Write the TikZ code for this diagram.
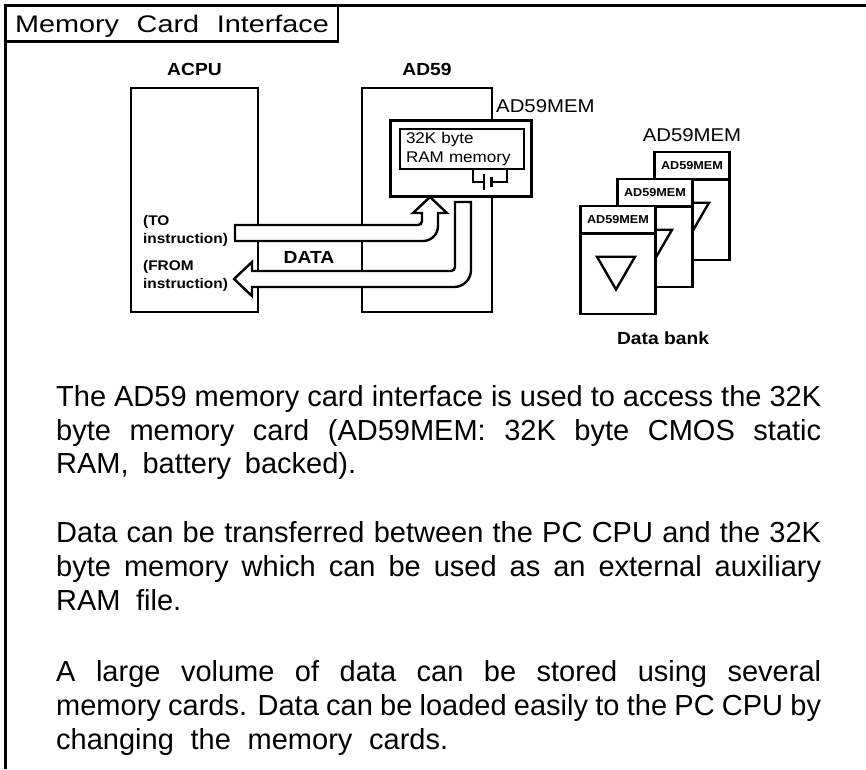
\documentclass[tikz,border=0pt]{standalone}
\usepackage{fontspec}
\usepackage{graphicx}
\setmainfont{Liberation Sans}
\newfontfamily\figfont[FakeStretch=1.1]{Liberation Sans}
\usetikzlibrary{positioning}

\begin{document}
\begin{tikzpicture}[x=1pt,y=-1pt,
    box/.style={draw,line width=2.8pt,inner sep=0pt},
    card/.style={draw,fill=white,line width=2.4pt,inner sep=0pt,minimum width=75pt,minimum height=108pt},
    fatarrow/.style={draw,fill=white,line width=2.4pt},
    lbl/.style={inner sep=0pt,font=\figfont\bfseries\fontsize{17.5}{20}\selectfont},
    memlbl/.style={inner sep=0pt,font=\figfont\fontsize{18.5}{21}\selectfont},
    cardlbl/.style={inner sep=0pt,font=\figfont\bfseries\fontsize{11.5}{13}\selectfont},
    instr/.style={inner sep=0pt,align=left,font=\figfont\bfseries\fontsize{14}{18}\selectfont},
    para/.style={inner sep=0pt,anchor=base west,font=\fontsize{29}{34}\selectfont}]
  \useasboundingbox (0,0) rectangle (866,769);
  % frame and title
  \draw[line width=3pt] (866,5) -- (5,5) -- (5,769);
  \node[draw,line width=2.2pt,inner sep=0pt,minimum width=333pt,minimum height=36.5pt] (title) at (171.5,23.25) {};
  \node[inner sep=0pt,anchor=base] at (172,32)
    {\fontsize{24}{28}\selectfont\scalebox{1.2}[1]{\makebox[261.5pt][s]{Memory Card Interface}}};

  % CPU and interface module
  \node[box,minimum width=127pt,minimum height=224pt] (acpu) at (194.5,200) {};
  \node[box,minimum width=130pt,minimum height=224pt] (ad59) at (427,200) {};
  \node[lbl,above=11pt of acpu] {ACPU};
  \node[lbl,above=11pt of ad59] {AD59};
  \node[box,fill=white,minimum width=141pt,minimum height=76pt] (mem) at (461.3,158.7) {};
  \node[memlbl,anchor=base west] at (496,112) {AD59MEM};
  \node[draw,line width=2.2pt,inner sep=0pt,minimum width=124pt,minimum height=40pt,text width=112pt,align=left,
    font=\figfont\fontsize{15.5}{19}\selectfont] (ram) at (462,149) {32K byte\\RAM memory};

  % battery
  \draw[line width=2pt] (473,169) -- (473,181.5) -- (484,181.5);
  \draw[line width=2pt] (484,173.5) -- (484,190);
  \draw[line width=3.5pt] (491.5,176.5) -- (491.5,186.5);
  \draw[line width=2pt] (491.5,181.5) -- (507,181.5) -- (507,169);

  % data paths
  \draw[fatarrow] (235,225) -- (418,225) .. controls (420.2,225) and (422,223.2) .. (422,221) -- (422,213)
    -- (413,213) -- (430,197) -- (447,213) -- (438,213) -- (438,226)
    .. controls (438,234.3) and (431.3,241) .. (423,241) -- (235,241) -- cycle;
  \draw[fatarrow] (455,202) -- (471,202) -- (471,270) .. controls (471,279.4) and (463.4,287) .. (454,287)
    -- (252,287) -- (252,296) -- (234,279) -- (252,262) -- (252,271) -- (451,271)
    .. controls (453.2,271) and (455,269.2) .. (455,267) -- cycle;
  \node[lbl] at (309,257) {DATA};
  \node[instr,anchor=north west] at (143,215.5) {(TO\\instruction)};
  \node[instr,anchor=north west] at (143,260) {(FROM\\instruction)};

  % data bank
  \node[card] (card2) at (692,206) {};
  \draw[line width=2.4pt] ([yshift=-28.5pt]card2.north west) -- ([yshift=-28.5pt]card2.north east);
  \node[cardlbl,below=10pt of card2.north] {AD59MEM};
  \draw[line width=2.4pt] (card2.center) ++(-21,-3.3) -- ++(38,0) -- ++(-19,32.8) -- cycle;
  \node[card] (card1) at (655,233) {};
  \draw[line width=2.4pt] ([yshift=-28.5pt]card1.north west) -- ([yshift=-28.5pt]card1.north east);
  \node[cardlbl,below=10pt of card1.north] {AD59MEM};
  \draw[line width=2.4pt] (card1.center) ++(-21,-3.3) -- ++(38,0) -- ++(-19,32.8) -- cycle;
  \node[card] (card0) at (618,260) {};
  \draw[line width=2.4pt] ([yshift=-28.5pt]card0.north west) -- ([yshift=-28.5pt]card0.north east);
  \node[cardlbl,below=10pt of card0.north] {AD59MEM};
  \draw[line width=2.4pt] (card0.center) ++(-21,-3.3) -- ++(38,0) -- ++(-19,32.8) -- cycle;
  \node[memlbl,above=8.5pt of card2] {AD59MEM};
  \node[lbl,anchor=base] at (663,344) {Data bank};

  % description
  \node[para] at (56,406) {\makebox[765pt][s]{The AD59 memory card interface is used to access the 32K}};
  \node[para] at (56,440) {\makebox[765pt][s]{byte memory card (AD59MEM: 32K byte CMOS static}};
  \node[para] at (56,473.5) {\makebox[300pt][s]{RAM, battery backed).}};
  \node[para] at (56,542.5) {\makebox[765pt][s]{Data can be transferred between the PC CPU and the 32K}};
  \node[para] at (56,576.5) {\makebox[765pt][s]{byte memory which can be used as an external auxiliary}};
  \node[para] at (56,610.5) {\makebox[125pt][s]{RAM file.}};
  \node[para] at (56,681) {\makebox[765pt][s]{A large volume of data can be stored using several}};
  \node[para] at (56,715.5) {\makebox[765pt][s]{memory cards. Data can be loaded easily to the PC CPU by}};
  \node[para] at (56,749.5) {\makebox[392pt][s]{changing the memory cards.}};
\end{tikzpicture}
\end{document}
